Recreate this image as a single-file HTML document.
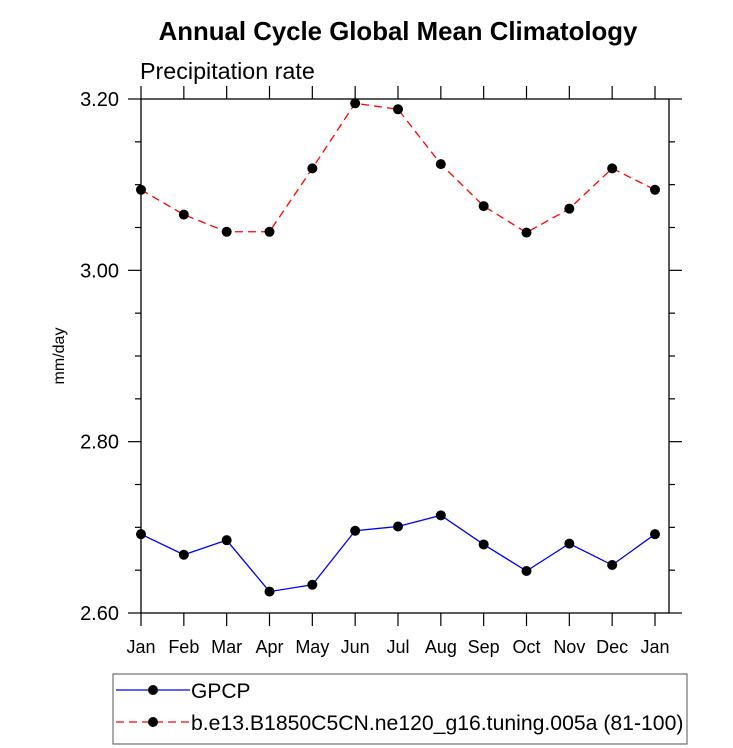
<!DOCTYPE html>
<html><head><meta charset="utf-8"><style>
body{margin:0;background:#fff;}
svg{display:block;font-family:"Liberation Sans",sans-serif;}
</style></head><body>
<svg id="chart" width="733" height="748">
<text x="398" y="40" text-anchor="middle" font-size="25.8" font-weight="bold">Annual Cycle Global Mean Climatology</text>
<text x="140" y="79" font-size="23.3">Precipitation rate</text>
<text transform="translate(64,356) rotate(-90)" text-anchor="middle" font-size="16">mm/day</text>
<g id="axes"></g>
<g id="series"></g>
<g>
<rect x="113" y="674" width="574" height="70" fill="none" stroke="#555" stroke-width="1"/>
<g>
<line x1="116" y1="690" x2="190" y2="690" stroke="#00f" stroke-width="1.3"/>
<circle cx="153" cy="690" r="5" fill="#000"/>
<text x="191" y="698" font-size="21">GPCP</text>
</g>
<g>
<line x1="116" y1="722" x2="190" y2="722" stroke="#f00" stroke-width="1.3" stroke-dasharray="8,5"/>
<circle cx="153" cy="722" r="5" fill="#000"/>
<text x="191" y="730" font-size="21.2">b.e13.B1850C5CN.ne120_g16.tuning.005a (81-100)</text>
</g>
</g>
</svg>
<script>
const months=["Jan","Feb","Mar","Apr","May","Jun","Jul","Aug","Sep","Oct","Nov","Dec","Jan"];
const gpcp=[2.692,2.668,2.685,2.625,2.633,2.696,2.701,2.714,2.680,2.649,2.681,2.656,2.692];
const model=[3.094,3.065,3.045,3.045,3.119,3.195,3.188,3.124,3.075,3.044,3.072,3.119,3.094];
const yTicks=[2.60,2.80,3.00,3.20];
const yTickLabels=["2.60","2.80","3.00","3.20"];
const L=141,R=669,T=99,B=613,X0=141,X1=655;
const x=i=>X0+(X1-X0)*i/12;
const y=v=>B-(v-2.6)/(0.6)*(B-T);
const NS="http://www.w3.org/2000/svg";
function mk(tag,parent,attrs){const e=document.createElementNS(NS,tag);for(const k in attrs)e.setAttribute(k,attrs[k]);parent.appendChild(e);return e;}
const ax=document.getElementById('axes');
const frame=mk('rect',ax,{x:L,y:T,width:R-L,height:B-T,fill:'none',stroke:'#000','stroke-width':1.3});


months.forEach((m,i)=>{
  mk('line',ax,{x1:x(i),y1:B,x2:x(i),y2:B+13,stroke:'#000','stroke-width':1.2});
  mk('line',ax,{x1:x(i),y1:T,x2:x(i),y2:T-13,stroke:'#000','stroke-width':1.2});
  const t=mk('text',ax,{x:x(i),y:B+40,'text-anchor':'middle','font-size':18});
  t.textContent=m;
  
  
});
for(let v=2.6;v<=3.2001;v+=0.05){
  const major=Math.abs((v-2.6)/0.2-Math.round((v-2.6)/0.2))<1e-6;
  const len=major?13:6;
  mk('line',ax,{x1:L-len,y1:y(v),x2:L,y2:y(v),stroke:'#000','stroke-width':1.2});
  mk('line',ax,{x1:R,y1:y(v),x2:R+len,y2:y(v),stroke:'#000','stroke-width':1.2});
}
yTicks.forEach((v,i)=>{
  const t=mk('text',ax,{x:L-22,y:y(v)+7,'text-anchor':'end','font-size':20});
  t.textContent=yTickLabels[i];
  
  
});
const sg=document.getElementById('series');
function series(vals,color,dash,name){
  const g=mk('g',sg,{});
  
  
  const pl=mk('polyline',g,{points:vals.map((v,i)=>x(i)+','+y(v)).join(' '),fill:'none',stroke:color,'stroke-width':1.3});
  if(dash)pl.setAttribute('stroke-dasharray',dash);
  vals.forEach((v,i)=>{
    const c=mk('circle',g,{cx:x(i),cy:y(v),r:5,fill:'#000'});
    
    
  });
}
series(gpcp,'#00f',null,'gpcp-series');
series(model,'#f00','8,5','model-series');
</script>
</body></html>
